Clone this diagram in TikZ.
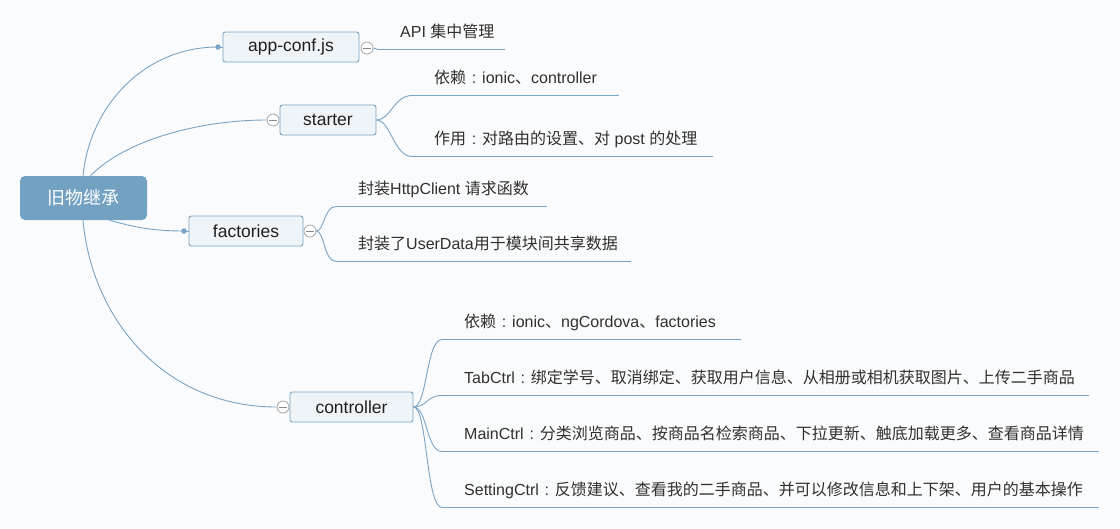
\documentclass[tikz,border=0pt]{standalone}
\usepackage{fontspec}
\setmainfont{Liberation Sans}
\newfontfamily\zhfont{Noto Sans CJK SC}
\newcommand\zh[1]{{\zhfont #1}}
\newcommand\fc{\makebox[1em][c]{:}}
\definecolor{bgc}{HTML}{FAFBFC}
\definecolor{linec}{HTML}{7AA4C5}
\definecolor{boxfill}{HTML}{EEF4F8}
\definecolor{boxline}{HTML}{7AA3C4}
\definecolor{rootfill}{HTML}{73A1C2}
\definecolor{txt}{HTML}{303030}
\newcommand\leaftext[2]{\makebox[#1pt][l]{\hspace*{22pt}#2}}
\tikzset{
  topic/.style={draw=boxline, fill=boxfill, line width=0.9pt, rounded corners=2.5pt,
    minimum height=30pt, inner sep=0pt, text=black!88, font=\fontsize{17.5}{20}\selectfont},
  roottopic/.style={fill=rootfill, rounded corners=5pt, minimum width=127pt, minimum height=44pt,
    inner sep=0pt, text=white, font=\zhfont\fontsize{18}{20}\selectfont},
  leaf/.style={anchor=south west, inner xsep=0pt, inner ysep=8pt, text height=11.5pt, text depth=3.5pt,
    text=txt, font=\fontsize{16}{18}\selectfont},
  conn/.style={draw=linec, line width=0.9pt},
  collapse/.style={circle, draw=gray!75, fill=white, line width=0.7pt, minimum size=12pt, inner sep=0pt,
    path picture={\draw[gray!90, line width=0.7pt] ([xshift=-4pt]path picture bounding box.center) -- ([xshift=4pt]path picture bounding box.center);}},
  joint/.style={circle, fill=linec, minimum size=5.5pt, inner sep=0pt},
}
\begin{document}
\begin{tikzpicture}[x=1pt,y=-1pt]
\fill[bgc] (0,0) rectangle (1120,528);
\useasboundingbox (0,0) rectangle (1120,528);

% root
\node[roottopic] (root) at (83.5,198) {旧物继承};

% main topics
\node[topic, minimum width=136pt] (app) at (291,47) {app-conf.js};
\node[topic, minimum width=96pt] (starter) at (328,120) {starter};
\node[topic, minimum width=114pt] (fac) at (246,231) {factories};
\node[topic, minimum width=123pt] (ctl) at (351.5,407) {controller};

% joints and collapse markers
\node[joint] (dapp) at (218,47) {};
\node[joint] (dfac) at (184,231) {};
\node[collapse] (kapp) at (367,48) {};
\node[collapse] (kstarter) at (273,120) {};
\node[collapse] (kfac) at (310,231) {};
\node[collapse] (kctl) at (283,407) {};

% root connectors
\draw[conn] ([xshift=-0.5pt]root.north) .. controls (90,105) and (145,47) .. (dapp.center);
\draw[conn] ([xshift=7pt]root.north) .. controls (125,140) and (200,120) .. (kstarter.west);
\draw[conn] ([xshift=26pt]root.south) .. controls (140,229) and (160,231) .. (dfac.center);
\draw[conn] ([xshift=-0.5pt]root.south) .. controls (92,320) and (165,407) .. (kctl.west);
\draw[conn] (dapp.center) -- (app.west);
\draw[conn] (dfac.center) -- (fac.west);

% leaves
\node[leaf] (a1) at (378,49.5) {\leaftext{127}{API \zh{集中管理}}};
\node[leaf] (s1) at (412,95.5) {\leaftext{207}{\zh{依赖}\fc ionic\zh{、}controller}};
\node[leaf] (s2) at (412,156.5) {\leaftext{301}{\zh{作用}\fc\zh{对路由的设置、对} post \zh{的处理}}};
\node[leaf] (f1) at (336,206.5) {\leaftext{211}{\zh{封装}HttpClient \zh{请求函数}}};
\node[leaf] (f2) at (336,261.5) {\leaftext{295}{\zh{封装了}UserData\zh{用于模块间共享数据}}};
\node[leaf] (c1) at (442,339.5) {\leaftext{299}{\zh{依赖}\fc ionic\zh{、}ngCordova\zh{、}factories}};
\node[leaf] (c2) at (442,395.5) {\leaftext{647}{TabCtrl\fc\zh{绑定学号、取消绑定、获取用户信息、从相册或相机获取图片、上传二手商品}}};
\node[leaf] (c3) at (442,451.5) {\leaftext{657}{MainCtrl\fc\zh{分类浏览商品、按商品名检索商品、下拉更新、触底加载更多、查看商品详情}}};
\node[leaf] (c4) at (442,507.5) {\leaftext{657}{SettingCtrl\fc\zh{反馈建议、查看我的二手商品、并可以修改信息和上下架、用户的基本操作}}};

% underlines
\foreach \n in {a1,s1,s2,f1,f2,c1,c2,c3,c4} {
  \draw[conn] (\n.south west) -- (\n.south east);
}

% branch connectors
\draw[conn] (kapp.east) -- (a1.south west);
\draw[conn] (starter.east) .. controls +(14,0) and +(-18,0) .. (s1.south west);
\draw[conn] (starter.east) .. controls +(14,0) and +(-18,0) .. (s2.south west);
\draw[conn] (kfac.east) .. controls +(8,0) and +(-12,0) .. (f1.south west);
\draw[conn] (kfac.east) .. controls +(8,0) and +(-12,0) .. (f2.south west);
\foreach \n in {c1,c2,c3,c4} {
  \draw[conn] (ctl.east) .. controls +(14,0) and +(-16,0) .. (\n.south west);
}
\end{tikzpicture}
\end{document}
